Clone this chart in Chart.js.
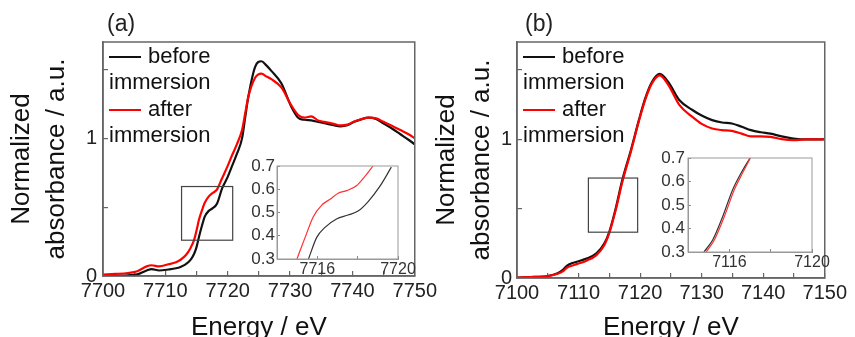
<!DOCTYPE html>
<html>
<head>
<meta charset="utf-8">
<script src="https://cdn.jsdelivr.net/npm/chart.js@4.4.1/dist/chart.umd.min.js"></script>
<style>
  html, body { margin: 0; padding: 0; background: #fff; overflow: hidden; }
  #wrap { position: relative; width: 855px; height: 337px; overflow: hidden; }
  canvas { position: absolute; }
</style>
</head>
<body>
<div id="wrap">
  <canvas id="mainA" width="445" height="345" style="left:0;top:0"></canvas>
  <canvas id="mainB" width="430" height="345" style="left:425px;top:0"></canvas>
  <canvas id="insetA" width="190" height="135" style="left:235px;top:150px"></canvas>
  <canvas id="insetB" width="190" height="135" style="left:645px;top:140px"></canvas>
</div>
<script>
const FONT = "'Liberation Sans', Arial, sans-serif";
const seriesNames = ["before immersion", "after immersion"];

// panel (a)
const energyA = [7700, 7702, 7704, 7705.5, 7707, 7707.8, 7709, 7710.5, 7711.7, 7712.5, 7713.3, 7714, 7714.6, 7715, 7715.4, 7715.9, 7716.3, 7717, 7717.5, 7718.3, 7719.1, 7720, 7720.7, 7721.5, 7722.3, 7722.8, 7723.3, 7724.4, 7725.4, 7726.2, 7727, 7728.6, 7730.2, 7731.3, 7732.3, 7733.4, 7734.5, 7735.5, 7737, 7738.1, 7739.2, 7740.3, 7741.5, 7742.6, 7743.8, 7745, 7746.4, 7747.7, 7749, 7750];
const beforeA = [0, 0.002, 0.005, 0.012, 0.04, 0.05, 0.04, 0.047, 0.056, 0.068, 0.087, 0.115, 0.16, 0.21, 0.285, 0.37, 0.43, 0.475, 0.49, 0.527, 0.636, 0.72, 0.8, 0.89, 1.0, 1.15, 1.3, 1.52, 1.56, 1.53, 1.49, 1.4, 1.23, 1.15, 1.135, 1.13, 1.12, 1.11, 1.095, 1.087, 1.095, 1.12, 1.14, 1.15, 1.14, 1.107, 1.07, 1.03, 0.99, 0.957];
const afterA = [0.01, 0.015, 0.022, 0.035, 0.07, 0.078, 0.07, 0.085, 0.1, 0.12, 0.152, 0.2, 0.26, 0.33, 0.41, 0.48, 0.53, 0.58, 0.6, 0.63, 0.71, 0.8, 0.877, 0.96, 1.06, 1.18, 1.3, 1.44, 1.47, 1.45, 1.43, 1.37, 1.24, 1.17, 1.15, 1.16, 1.13, 1.12, 1.105, 1.094, 1.1, 1.123, 1.14, 1.15, 1.145, 1.12, 1.09, 1.06, 1.03, 1.0];
const xTicksA = [7700, 7705, 7710, 7715, 7720, 7725, 7730, 7735, 7740, 7745, 7750];
const xLabelsA = [7700, 7710, 7720, 7730, 7740, 7750];
const zoomBoxA = [7712.6, 7720.8, 0.26, 0.65];

// inset (a)
const insetBeforeXA = [7715.56, 7715.97, 7716.38, 7716.95, 7717.52, 7718.02, 7718.51, 7719.09, 7719.67];
const insetBeforeYA = [0.3, 0.393, 0.436, 0.472, 0.489, 0.506, 0.546, 0.611, 0.695];
const insetAfterXA = [7714.99, 7715.39, 7715.8, 7716.22, 7716.63, 7717.03, 7717.45, 7717.94, 7718.35, 7718.76];
const insetAfterYA = [0.3, 0.392, 0.482, 0.532, 0.557, 0.583, 0.594, 0.615, 0.654, 0.7];
const insetXTicksA = [7716, 7718, 7720];
const insetXLabelsA = [7716, 7720];

// panel (b)
const energyB = [7100, 7103, 7105, 7106.6, 7107.5, 7108.1, 7109, 7109.7, 7111.3, 7112.9, 7114.2, 7115, 7116.1, 7117.1, 7118.5, 7119.8, 7120.8, 7121.9, 7123.2, 7124.6, 7126.4, 7128.5, 7130, 7131.7, 7133.3, 7134.9, 7136.5, 7138, 7139.6, 7141.2, 7143, 7144.9, 7147, 7148.5, 7150];
const beforeB = [0.002, 0.008, 0.014, 0.034, 0.06, 0.088, 0.108, 0.117, 0.14, 0.177, 0.25, 0.333, 0.513, 0.705, 0.92, 1.137, 1.29, 1.41, 1.47, 1.41, 1.28, 1.21, 1.17, 1.137, 1.12, 1.113, 1.09, 1.065, 1.05, 1.04, 1.02, 1.005, 0.998, 0.998, 1.0];
const afterB = [0.002, 0.008, 0.014, 0.03, 0.05, 0.074, 0.09, 0.1, 0.125, 0.165, 0.237, 0.325, 0.5, 0.69, 0.91, 1.13, 1.28, 1.4, 1.46, 1.39, 1.245, 1.16, 1.11, 1.077, 1.065, 1.06, 1.04, 1.02, 1.02, 1.017, 1.0, 0.993, 0.998, 0.998, 1.0];
const xTicksB = [7100, 7105, 7110, 7115, 7120, 7125, 7130, 7135, 7140, 7145, 7150];
const xLabelsB = [7100, 7110, 7120, 7130, 7140, 7150];
const zoomBoxB = [7111.6, 7119.6, 0.33, 0.72];

// inset (b)
const insetBeforeXB = [7114.77, 7115.2, 7115.68, 7116.16, 7116.57, 7117.0];
const insetBeforeYB = [0.3, 0.352, 0.451, 0.565, 0.636, 0.7];
const insetAfterXB = [7114.88, 7115.28, 7115.76, 7116.24, 7116.64, 7117.02];
const insetAfterYB = [0.3, 0.352, 0.451, 0.565, 0.636, 0.7];
const insetXTicksB = [7116, 7118, 7120];
const insetXLabelsB = [7116, 7120];

const yTicksMain = [0, 0.5, 1, 1.5];
const yLabelsMain = [0, 1];
const yTicksInset = [0.3, 0.4, 0.5, 0.6, 0.7];

const toPoints = (xs, ys) => xs.map((x, i) => ({ x, y: ys[i] }));

// frame, panel letter, legend and zoom box
const decorations = {
  id: "decorations",
  afterDatasetsDraw(chart, args, opts) {
    const { ctx, chartArea: a, scales } = chart;
    ctx.save();
    ctx.strokeStyle = opts.frameColor;
    ctx.lineWidth = opts.frameWidth;
    ctx.strokeRect(a.left, a.top, a.right - a.left, a.bottom - a.top);

    if (opts.zoomBox) {
      const [x0, x1, y0, y1] = opts.zoomBox;
      const px0 = scales.x.getPixelForValue(x0), px1 = scales.x.getPixelForValue(x1);
      const py0 = scales.y.getPixelForValue(y0), py1 = scales.y.getPixelForValue(y1);
      ctx.strokeStyle = "#444";
      ctx.lineWidth = 1.2;
      ctx.strokeRect(px0, py1, px1 - px0, py0 - py1);
    }

    if (opts.letter) {
      ctx.fillStyle = "#222";
      ctx.font = "23px " + FONT;
      ctx.textBaseline = "middle";
      ctx.textAlign = "left";
      ctx.fillText(opts.letter, a.left + opts.letterDx, 25);
    }

    if (opts.legend) {
      ctx.font = "22px " + FONT;
      ctx.textBaseline = "middle";
      ctx.textAlign = "left";
      ctx.fillStyle = "#111";
      const order = [1, 0];
      order.forEach((di, k) => {
        const ds = chart.data.datasets[di];
        const words = seriesNames[k].split(" ");
        const y1 = a.top + 15 + k * 53;
        ctx.strokeStyle = ds.borderColor;
        ctx.lineWidth = 2;
        ctx.beginPath();
        ctx.moveTo(a.left + 6, y1);
        ctx.lineTo(a.left + 38, y1);
        ctx.stroke();
        ctx.fillText(words[0], a.left + 45, y1);
        ctx.fillText(words[1], a.left + 6, y1 + 26);
      });
    }
    ctx.restore();
  }
};

function mainChart(id, cfg) {
  return new Chart(document.getElementById(id), {
    type: "line",
    data: {
      datasets: [
        { label: seriesNames[1], data: toPoints(cfg.energy, cfg.after), borderColor: "#ff0000", borderWidth: 2.2, pointRadius: 0, cubicInterpolationMode: "monotone" },
        { label: seriesNames[0], data: toPoints(cfg.energy, cfg.before), borderColor: "#111111", borderWidth: 2.2, pointRadius: 0, cubicInterpolationMode: "monotone" }
      ]
    },
    options: {
      responsive: false,
      animation: false,
      layout: { padding: { top: 42, right: cfg.padRight, left: 0, bottom: 0 } },
      plugins: {
        legend: { display: false },
        tooltip: { enabled: false },
        decorations: { frameColor: "#666", frameWidth: 1.5, legend: true, letter: cfg.letter, letterDx: cfg.letterDx, zoomBox: cfg.zoomBox }
      },
      scales: {
        x: {
          type: "linear", min: cfg.xTicks[0], max: cfg.xTicks[cfg.xTicks.length - 1],
          afterBuildTicks: (s) => { s.ticks = cfg.xTicks.map((v) => ({ value: v })); },
          afterFit: (s) => { s.height = 345 - cfg.bottom; },
          grid: { drawOnChartArea: false, tickLength: -5, color: "#666", lineWidth: 1.2 },
          border: { color: "#666", width: 1.5 },
          ticks: { padding: 8, autoSkip: false, maxRotation: 0, color: "#222", font: { family: FONT, size: 20 },
            callback: (v) => (cfg.xLabels.includes(v) ? String(v) : "") },
          title: { display: true, text: "Energy / eV", color: "#111", font: { family: FONT, size: 26, lineHeight: 1 }, padding: { top: 0, bottom: 4 } }
        },
        y: {
          type: "linear", min: 0, max: 1.7,
          afterBuildTicks: (s) => { s.ticks = yTicksMain.map((v) => ({ value: v })); },
          afterFit: (s) => { s.width = cfg.left; },
          grid: { drawOnChartArea: false, tickLength: -5, color: "#666", lineWidth: 1.2 },
          border: { color: "#666", width: 1.5 },
          ticks: { padding: cfg.yPad, autoSkip: false, color: "#222", font: { family: FONT, size: 20 },
            callback: (v) => (yLabelsMain.includes(v) ? String(v) : "") },
          title: { display: true, text: ["Normalized", "absorbance / a.u."], color: "#111",
            font: { family: FONT, size: 26, lineHeight: 35 / 26 }, padding: { top: 4.5, bottom: 0 } }
        }
      }
    },
    plugins: [decorations]
  });
}

function insetChart(id, cfg) {
  return new Chart(document.getElementById(id), {
    type: "line",
    data: {
      datasets: [
        { label: seriesNames[1], data: toPoints(cfg.afterX, cfg.afterY), borderColor: "#ff3030", borderWidth: 1.2, pointRadius: 0, cubicInterpolationMode: "monotone" },
        { label: seriesNames[0], data: toPoints(cfg.beforeX, cfg.beforeY), borderColor: "#333333", borderWidth: 1.2, pointRadius: 0, cubicInterpolationMode: "monotone" }
      ]
    },
    options: {
      responsive: false,
      animation: false,
      layout: { padding: { top: cfg.top, right: cfg.padRight, left: 0, bottom: 0 } },
      plugins: {
        legend: { display: false },
        tooltip: { enabled: false },
        decorations: { frameColor: "#999", frameWidth: 1, legend: false }
      },
      scales: {
        x: {
          type: "linear", min: cfg.xMin, max: cfg.xMax,
          afterBuildTicks: (s) => { s.ticks = cfg.xTicks.map((v) => ({ value: v })); },
          afterFit: (s) => { s.height = 135 - cfg.bottom; },
          grid: { drawOnChartArea: false, tickLength: -3, color: "#888", lineWidth: 1 },
          border: { color: "#999", width: 1 },
          ticks: { padding: 3.5, autoSkip: false, maxRotation: 0, color: "#333", font: { family: FONT, size: 16 },
            callback: (v) => (cfg.xLabels.includes(v) ? String(v) : "") }
        },
        y: {
          type: "linear", min: 0.3, max: 0.7,
          afterBuildTicks: (s) => { s.ticks = yTicksInset.map((v) => ({ value: v })); },
          afterFit: (s) => { s.width = cfg.left; },
          grid: { drawOnChartArea: false, tickLength: -3, color: "#888", lineWidth: 1 },
          border: { color: "#999", width: 1 },
          ticks: { padding: cfg.yPad, autoSkip: false, color: "#333", font: { family: FONT, size: 17 },
            callback: (v) => v.toFixed(1) }
        }
      }
    },
    plugins: [decorations]
  });
}

mainChart("mainA", { energy: energyA, before: beforeA, after: afterA, xTicks: xTicksA, xLabels: xLabelsA,
  zoomBox: zoomBoxA, left: 103, padRight: 27, bottom: 276, yPad: 11, letter: "(a)", letterDx: 4 });
mainChart("mainB", { energy: energyB, before: beforeB, after: afterB, xTicks: xTicksB, xLabels: xLabelsB,
  zoomBox: zoomBoxB, left: 92, padRight: 23, bottom: 278, yPad: 10, letter: "(b)", letterDx: 8 });
insetChart("insetA", { beforeX: insetBeforeXA, beforeY: insetBeforeYA, afterX: insetAfterXA, afterY: insetAfterYA,
  xTicks: insetXTicksA, xLabels: insetXLabelsA, xMin: 7714, xMax: 7720, left: 42, top: 16, padRight: 27, bottom: 109, yPad: 5 });
insetChart("insetB", { beforeX: insetBeforeXB, beforeY: insetBeforeYB, afterX: insetAfterXB, afterY: insetAfterYB,
  xTicks: insetXTicksB, xLabels: insetXLabelsB, xMin: 7114, xMax: 7120, left: 43, top: 18, padRight: 23, bottom: 112, yPad: 6 });
</script>
</body>
</html>
